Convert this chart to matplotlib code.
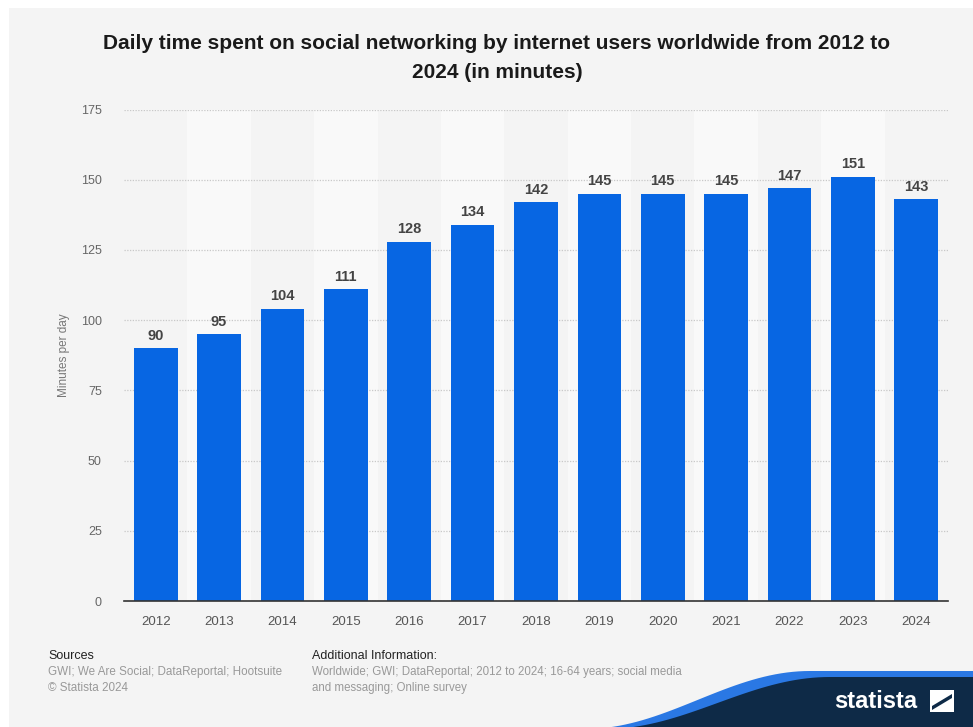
import matplotlib.pyplot as plt
from matplotlib.patches import Rectangle, Polygon
import numpy as np

# Chart data
years = ['2012', '2013', '2014', '2015', '2016', '2017', '2018',
         '2019', '2020', '2021', '2022', '2023', '2024']
minutes = [90, 95, 104, 111, 128, 134, 142, 145, 145, 145, 147, 151, 143]
yticks = [0, 25, 50, 75, 100, 125, 150, 175]

title = 'Daily time spent on social networking by internet users worldwide from 2012 to\n2024 (in minutes)'
sources = 'GWI; We Are Social; DataReportal; Hootsuite\n\u00a9 Statista 2024'
additional = 'Worldwide; GWI; DataReportal; 2012 to 2024; 16-64 years; social media\nand messaging; Online survey'

plt.rcParams['font.family'] = ['Liberation Sans', 'DejaVu Sans']

W, H = 973, 727
fig = plt.figure(figsize=(W / 100, H / 100), dpi=100)
fig.patch.set_facecolor('white')

# Gray card behind everything (white strip on top and left)
fig.add_artist(Rectangle((9 / W, 0), 1 - 9 / W, 1 - 8 / H, transform=fig.transFigure,
                         facecolor='#f4f4f4', edgecolor='none', zorder=-10))

ax = fig.add_axes([124 / W, (H - 601) / H, (948 - 124) / W, (601 - 109.5) / H])
ax.set_facecolor('none')

x = np.arange(len(years))
# Alternating column shading
for i in x:
    if i % 2 == 1:
        ax.axvspan(i - 0.5, i + 0.5, color='#f9f9f9', zorder=0, lw=0)

ax.bar(x, minutes, width=0.69, color='#0766e3', zorder=3)
for xi, v in zip(x, minutes):
    ax.text(xi, v + 2.0, str(v), ha='center', va='bottom', fontsize=10.5,
            fontweight='bold', color='#444444', zorder=4)

ax.set_xlim(-0.5, len(years) - 0.5)
ax.set_ylim(0, 175)
ax.set_yticks(yticks)
ax.set_yticklabels([str(t) for t in yticks])
ax.set_xticks(x)
ax.set_xticklabels(years)
ax.tick_params(axis='y', length=0, pad=16, labelsize=9, labelcolor='#666666')
ax.tick_params(axis='x', length=0, pad=11, labelsize=9.5, labelcolor='#555555')
ax.grid(axis='y', linestyle=(0, (1, 1.2)), color='#c8c8c8', linewidth=0.9, zorder=1)
for s in ['top', 'right', 'left']:
    ax.spines[s].set_visible(False)
ax.spines['bottom'].set_color('#333333')
ax.spines['bottom'].set_linewidth(1.2)
ax.spines['bottom'].set_zorder(5)
ax.set_ylabel('Minutes per day', fontsize=8.5, color='#777777')
ax.yaxis.set_label_coords(-0.065, 0.5)

fig.text(497 / W, 1 - 58 / H, title, ha='center', va='center', fontsize=15,
         fontweight='bold', color='#1a1a1a', linespacing=1.72)

# Footer
fig.text(48 / W, 1 - 656 / H, 'Sources', fontsize=9, color='#222222', va='center')
fig.text(48 / W, 1 - 680 / H, sources, fontsize=8.4, color='#999999', va='center',
         linespacing=1.45)
fig.text(312 / W, 1 - 656 / H, 'Additional Information:', fontsize=9,
         color='#222222', va='center')
fig.text(312 / W, 1 - 680 / H, additional, fontsize=8.3, color='#999999',
         va='center', linespacing=1.45)

# Statista logo wave
t = np.linspace(0, 1, 40)
def wave(x0, x1, y0, y1):
    xs = x0 + (x1 - x0) * t
    ys = y0 + (y1 - y0) * (0.5 - 0.5 * np.cos(np.pi * t))
    return list(zip(xs / W, 1 - ys / H))

blue_pts = wave(585, 810, 729, 671) + [(1, 1 - 671 / H), (1, 0), (585 / W, 0)]
dark_pts = wave(605, 830, 729, 677) + [(1, 1 - 677 / H), (1, 0), (605 / W, 0)]
fig.add_artist(Polygon(blue_pts, closed=True, transform=fig.transFigure,
                       facecolor='#2a78e4', edgecolor='none', zorder=5))
fig.add_artist(Polygon(dark_pts, closed=True, transform=fig.transFigure,
                       facecolor='#0e2a47', edgecolor='none', zorder=6))
fig.text(876 / W, 1 - 702 / H, 'statista', ha='center', va='center', fontsize=17,
         fontweight='bold', color='white', zorder=7)
# logo mark
fig.add_artist(Rectangle((930 / W, 1 - 712 / H), 24 / W, 22 / H, transform=fig.transFigure,
                         facecolor='white', edgecolor='none', zorder=7))
fig.add_artist(Polygon([(932 / W, 1 - 706 / H), (952 / W, 1 - 694 / H),
                        (952 / W, 1 - 698 / H), (932 / W, 1 - 710 / H)],
                       closed=True, transform=fig.transFigure,
                       facecolor='#0e2a47', edgecolor='none', zorder=8))

fig.savefig('out.png', dpi=100)
